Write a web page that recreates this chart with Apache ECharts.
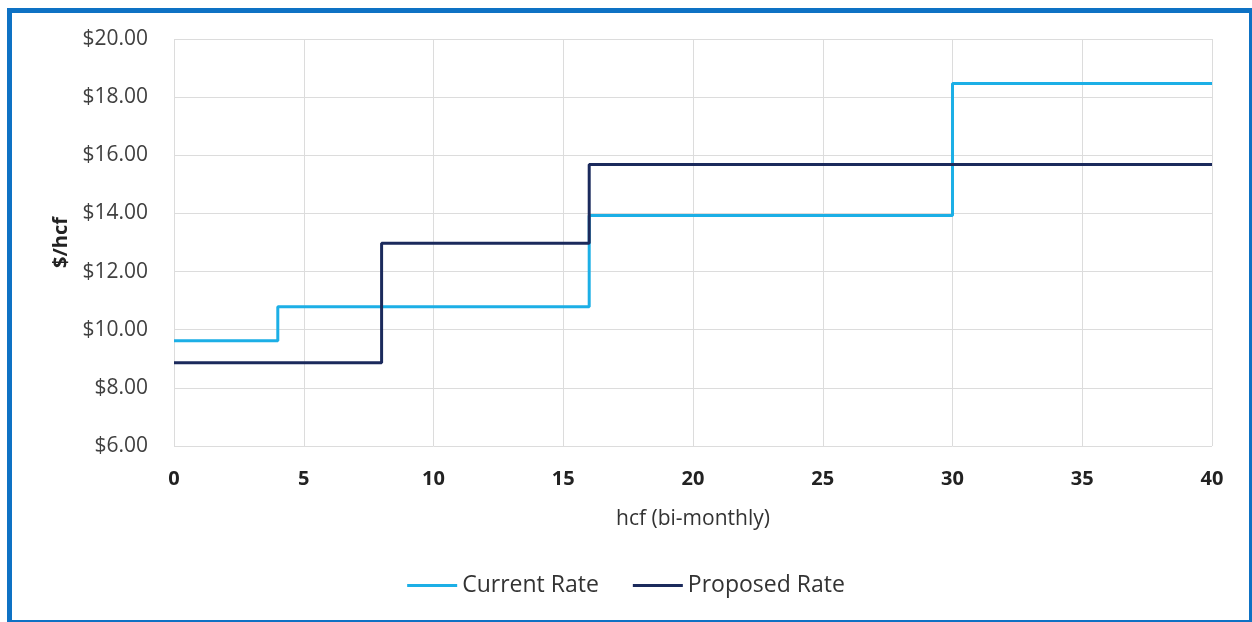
<!DOCTYPE html>
<html><head><meta charset="utf-8">
<style>
html,body{margin:0;padding:0;background:#fff;}
#frame{position:absolute;left:7px;top:8px;width:1237px;height:607px;border:5px solid #0E72C4;border-right-width:4px;border-bottom-width:4px;}
#chart{position:absolute;left:0;top:0;width:1252px;height:622px;}
</style>
<script src="https://cdn.jsdelivr.net/npm/echarts@6/dist/echarts.min.js"></script>
</head><body>
<div id="frame"></div>
<div id="chart"></div>
<script>
const currentX = [0, 4, 16, 30, 40];
const currentY = [9.62, 10.79, 13.93, 18.47, 18.47];
const proposedX = [0, 8, 16, 40];
const proposedY = [8.86, 12.97, 15.68, 15.68];
const seriesNames = ['Current Rate', 'Proposed Rate'];

const chart = echarts.init(document.getElementById('chart'));
const font = '"Open Sans", Lato, "Noto Sans", sans-serif';
chart.setOption({
  animation: false,
  textStyle: { fontFamily: font },
  grid: { left: 174, right: 40, top: 39, bottom: 176 },
  legend: {
    bottom: 20, left: 'center',
    itemWidth: 50, itemHeight: 3, itemGap: 34,
    icon: 'rect',
    textStyle: { fontSize: 23, color: '#333', fontFamily: font },
    data: seriesNames
  },
  xAxis: {
    type: 'value', min: 0, max: 40, interval: 5,
    name: 'hcf (bi-monthly)', nameLocation: 'middle', nameGap: 63,
    nameTextStyle: { fontSize: 21, color: '#333', fontFamily: font },
    axisLine: { show: false }, axisTick: { show: false },
    axisLabel: { fontSize: 20, fontWeight: 'bold', color: '#222', margin: 23, fontFamily: font },
    splitLine: { lineStyle: { color: '#DCDCDC', width: 1 } }
  },
  yAxis: {
    type: 'value', min: 6, max: 20, interval: 2,
    name: '$/hcf', nameLocation: 'middle', nameGap: 103,
    nameTextStyle: { fontSize: 20, fontWeight: 'bold', color: '#222', fontFamily: font },
    axisLine: { show: false }, axisTick: { show: false },
    axisLabel: { fontSize: 21, color: '#404040', margin: 26, fontFamily: font,
      formatter: v => '$' + v.toFixed(2) },
    splitLine: { lineStyle: { color: '#DCDCDC', width: 1 } }
  },
  series: [
    { name: seriesNames[0], type: 'line', step: 'end', showSymbol: false,
      lineStyle: { color: '#1CAFE6', width: 3 }, itemStyle: { color: '#1CAFE6' },
      data: currentX.map((x, i) => [x, currentY[i]]) },
    { name: seriesNames[1], type: 'line', step: 'end', showSymbol: false,
      lineStyle: { color: '#1B2A5C', width: 3 }, itemStyle: { color: '#1B2A5C' },
      data: proposedX.map((x, i) => [x, proposedY[i]]) }
  ]
});
</script>
</body></html>
